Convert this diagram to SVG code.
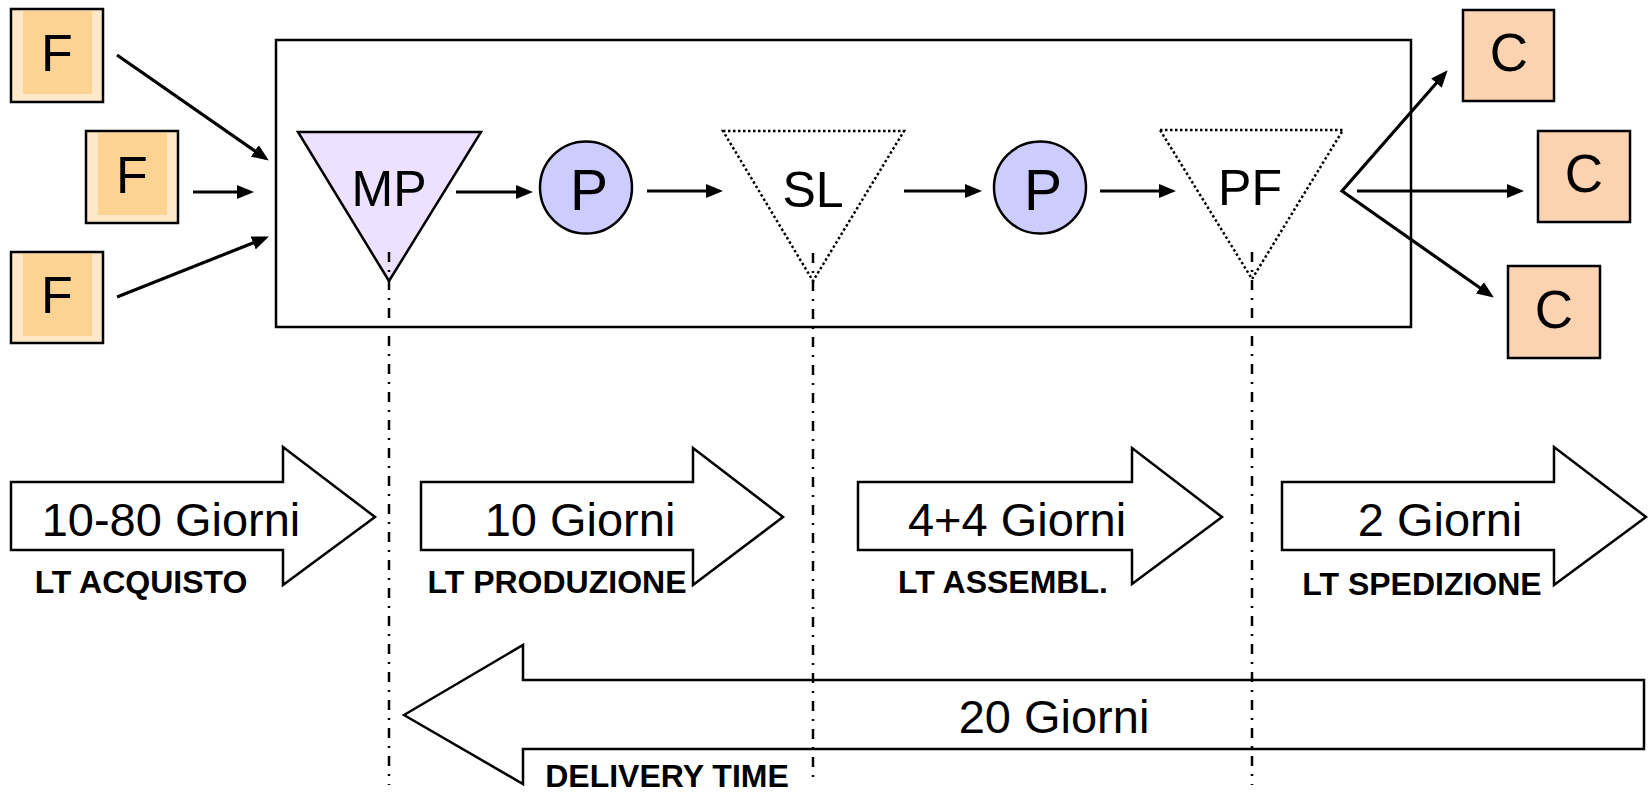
<svg xmlns="http://www.w3.org/2000/svg" width="1652" height="792" viewBox="0 0 1652 792">
<style>
text{font-family:"Liberation Sans",Arial,sans-serif;fill:#000}
.big{font-size:47px;text-anchor:middle}
.node{font-size:50px;text-anchor:middle}
.lbl{font-size:32px;font-weight:bold;text-anchor:middle}
.fo{fill:#FFE8C8;stroke:#000;stroke-width:2.5}
.fi{fill:#FDD394}
.cb{fill:#FCD3B1;stroke:#000;stroke-width:2.5}
.conn{stroke:#000;stroke-width:3.2;fill:none}
.blk{fill:#fff;stroke:#000;stroke-width:2.5;stroke-linejoin:miter}
.dd{stroke:#000;stroke-width:2.5;stroke-dasharray:10 8 2 8;fill:none}
.dot{fill:#fff;stroke:#000;stroke-width:2.5;stroke-dasharray:2.5 2.5}
</style>
<defs>
<marker id="ah" markerUnits="userSpaceOnUse" markerWidth="17" markerHeight="14" refX="13" refY="7" orient="auto-start-reverse">
<path d="M0,0 L17,7 L0,14 Z" fill="#000"/>
</marker>
</defs>

<g id="system">
<rect x="276" y="40" width="1135" height="287" fill="none" stroke="#000" stroke-width="2.5"/>
</g>

<g id="F1"><rect class="fo" x="11" y="9" width="92" height="93"/><rect class="fi" x="23" y="11" width="69" height="83"/><text class="node" x="57" y="71" style="font-size:52px">F</text></g>
<g id="F2"><rect class="fo" x="86" y="131" width="92" height="92"/><rect class="fi" x="98" y="133" width="69" height="82"/><text class="node" x="132" y="193" style="font-size:52px">F</text></g>
<g id="F3"><rect class="fo" x="11" y="252" width="92" height="91"/><rect class="fi" x="23" y="254" width="69" height="82"/><text class="node" x="57" y="313" style="font-size:52px">F</text></g>

<g id="MP"><polygon points="298,132 481,132 389,281" fill="#EEE0FF" stroke="#000" stroke-width="2.5"/><text class="node" x="389" y="206">MP</text></g>
<g id="P1"><circle cx="586" cy="187.5" r="46" fill="#CCCCFF" stroke="#000" stroke-width="2.5"/><text class="node" x="589" y="210" style="font-size:57px">P</text></g>
<g id="SL"><polygon class="dot" points="723,131 904,131 813,281"/><text class="node" x="813" y="207">SL</text></g>
<g id="P2"><circle cx="1040" cy="187.5" r="46" fill="#CCCCFF" stroke="#000" stroke-width="2.5"/><text class="node" x="1043" y="210" style="font-size:57px">P</text></g>
<g id="PF"><polygon class="dot" points="1160,130 1343,130 1252,279"/><text class="node" x="1250" y="205">PF</text></g>

<g id="C1"><rect class="cb" x="1463" y="10" width="91" height="91"/><text class="node" x="1509" y="71" style="font-size:53px">C</text></g>
<g id="C2"><rect class="cb" x="1538" y="131" width="92" height="91"/><text class="node" x="1584" y="192" style="font-size:53px">C</text></g>
<g id="C3"><rect class="cb" x="1508" y="266" width="92" height="92"/><text class="node" x="1554" y="328" style="font-size:53px">C</text></g>

<g id="connectors">
<line class="conn" x1="117" y1="55" x2="265.5" y2="158.3" marker-end="url(#ah)"/>
<line class="conn" x1="193" y1="192" x2="250" y2="192" marker-end="url(#ah)"/>
<line class="conn" x1="117" y1="297" x2="265.2" y2="238.1" marker-end="url(#ah)"/>
<line class="conn" x1="456" y1="192" x2="529" y2="192" marker-end="url(#ah)"/>
<line class="conn" x1="647" y1="191" x2="719" y2="191" marker-end="url(#ah)"/>
<line class="conn" x1="904" y1="191" x2="978" y2="191" marker-end="url(#ah)"/>
<line class="conn" x1="1100" y1="191" x2="1172" y2="191" marker-end="url(#ah)"/>
<path class="conn" d="M1445,73.3 L1342,191 L1490.5,295.3" stroke-linejoin="miter" marker-start="url(#ah)" marker-end="url(#ah)"/>
<line class="conn" x1="1357" y1="191" x2="1520" y2="191" marker-end="url(#ah)"/>
</g>

<g id="lt-acquisto"><path class="blk" d="M11,482 L283,482 L283,447 L375,517 L283,585 L283,550 L11,550 Z"/><text class="big" x="171" y="536">10-80 Giorni</text><text class="lbl" x="141" y="593">LT ACQUISTO</text></g>
<g id="lt-produzione"><path class="blk" d="M421,482 L693,482 L693,448 L783,517 L693,585 L693,550 L421,550 Z"/><text class="big" x="580" y="536">10 Giorni</text><text class="lbl" x="557" y="593">LT PRODUZIONE</text></g>
<g id="lt-assembl"><path class="blk" d="M858,482 L1132,482 L1132,448 L1222,517 L1132,584 L1132,550 L858,550 Z"/><text class="big" x="1017" y="536">4+4 Giorni</text><text class="lbl" x="1003" y="593">LT ASSEMBL.</text></g>
<g id="lt-spedizione"><path class="blk" d="M1282,482 L1554,482 L1554,447 L1646,517 L1554,585 L1554,550 L1282,550 Z"/><text class="big" x="1440" y="536">2 Giorni</text><text class="lbl" x="1422" y="595">LT SPEDIZIONE</text></g>
<g id="delivery"><path class="blk" d="M404,715 L523,645 L523,680 L1644,680 L1644,749 L523,749 L523,784 Z"/><text class="big" x="1054" y="733">20 Giorni</text><text class="lbl" x="667" y="787">DELIVERY TIME</text></g>

<g id="guides">
<line class="dd" x1="389" y1="252" x2="389" y2="785"/>
<line class="dd" x1="813" y1="253" x2="813" y2="785"/>
<line class="dd" x1="1252" y1="252" x2="1252" y2="785"/>
</g>
</svg>
